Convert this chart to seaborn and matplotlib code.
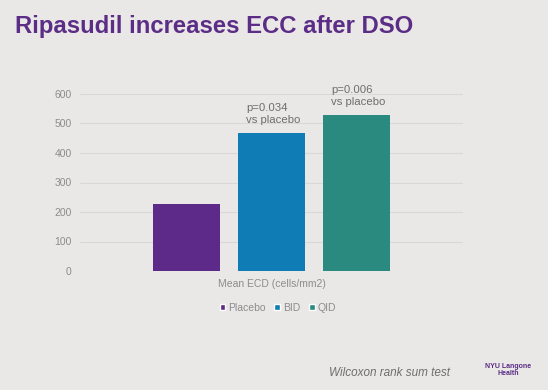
import matplotlib
matplotlib.use("Agg")
import matplotlib.pyplot as plt
import seaborn as sns
import pandas as pd
from matplotlib.patches import Patch

groups = ["Placebo", "BID", "QID"]
values = [226, 468, 529]
category = "Mean ECD (cells/mm2)"
annotations = ["", "p=0.034\nvs placebo", "p=0.006\nvs placebo"]
colors = ["#5E2A8A", "#0F7CB6", "#2A8A80"]
yticks = [0, 100, 200, 300, 400, 500, 600]

bg = "#E9E8E6"
sns.set_theme(style="white")
plt.rcParams["font.family"] = ["Liberation Sans", "DejaVu Sans"]

df = pd.DataFrame({"cat": [category] * 3, "group": groups, "value": values})

fig = plt.figure(figsize=(5.48, 3.90), dpi=100, facecolor=bg)
ax = fig.add_axes([80 / 548, 1 - 271 / 390, 383 / 548, (271 - 94) / 390])
ax.set_facecolor(bg)

sns.barplot(data=df, x="cat", y="value", hue="group", hue_order=groups,
            palette=colors, width=0.666, gap=0.21, ax=ax, legend=False,
            saturation=1, edgecolor="none", zorder=3)

ax.set_ylim(0, 600)
ax.set_xlim(-0.5, 0.5)
ax.set_yticks(yticks)
ax.yaxis.grid(True, color="#D8D8D8", linewidth=0.8, zorder=0)
ax.set_axisbelow(True)
for s in ax.spines.values():
    s.set_visible(False)
ax.tick_params(axis="y", colors="#8C8C8C", labelsize=7.5, length=0, pad=6)
ax.tick_params(axis="x", colors="#8C8C8C", labelsize=7.5, length=0, pad=6)
ax.set_xlabel("")
ax.set_ylabel("")

for patch, txt in zip(ax.patches, annotations):
    if txt:
        ax.annotate(txt, (patch.get_x(), patch.get_height()),
                    xytext=(6, 6), textcoords="offset points",
                    ha="left", va="bottom", fontsize=8.2, color="#6E6E6E",
                    linespacing=1.2)

handles = [Patch(facecolor=c, label=g) for c, g in zip(colors, groups)]
fig.legend(handles=handles, loc="center", bbox_to_anchor=(278 / 548, 1 - 308 / 390),
           ncol=3, frameon=False, fontsize=7.5, handlelength=0.55, handleheight=0.55,
           handletextpad=0.3, columnspacing=0.8, labelcolor="#8C8C8C")

fig.text(15 / 548, 1 - 26 / 390, "Ripasudil increases ECC after DSO",
         fontsize=17.2, fontweight="bold", color="#5B2D86", va="center", ha="left")
fig.text(450 / 548, 1 - 373 / 390, "Wilcoxon rank sum test", fontsize=8.5,
         style="italic", color="#6E6E6E", ha="right", va="center")
fig.text(508 / 548, 1 - 370 / 390, "NYU Langone\nHealth", fontsize=5, fontweight="bold",
         color="#5B2D86", ha="center", va="center", linespacing=0.9)

fig.savefig("out.png", dpi=100, facecolor=bg)
